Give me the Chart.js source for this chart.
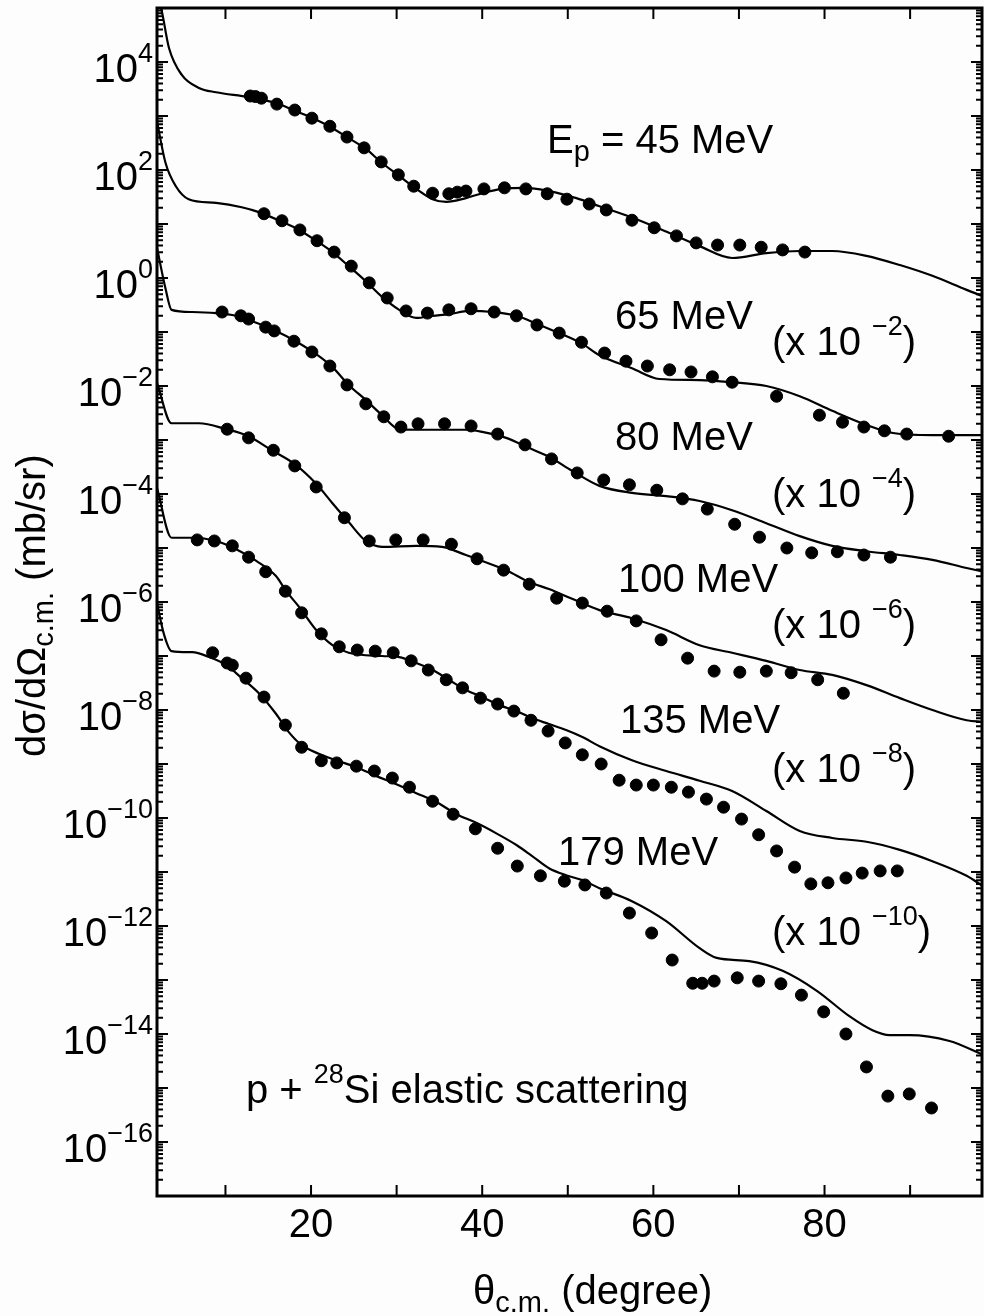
<!DOCTYPE html>
<html>
<head>
<meta charset="utf-8">
<script src="https://cdn.jsdelivr.net/npm/chart.js@4.4.1/dist/chart.umd.min.js"></script>
<style>
  html, body { margin: 0; padding: 0; overflow: hidden; background: #fcfdfc; }
  canvas { display: block; }
</style>
</head>
<body>
<canvas id="chartSi" width="984" height="1316"></canvas>
<script>
// theta_cm (deg) and log10 of dsigma/dOmega as plotted (already multiplied by the 10^-n factor)
const fit45X = [2.0, 2.5, 3.4, 4.9, 6.9, 8.9, 12.7, 15.9, 18.2, 20.6, 22.1, 24.4, 26.4, 28.3, 30.3, 32.3, 34.2, 35.8, 38.1, 40.0, 42.3, 45.1, 47.8, 51.0, 53.7, 57.5, 61.5, 65.4, 69.2, 73.2, 77.1, 80.9, 84.9, 88.8, 92.6, 96.6, 98.4];
const fit45Y = [5.2, 4.98, 4.26, 3.76, 3.52, 3.44, 3.35, 3.24, 3.09, 2.93, 2.81, 2.59, 2.39, 2.13, 1.89, 1.65, 1.46, 1.41, 1.48, 1.57, 1.65, 1.67, 1.61, 1.48, 1.33, 1.12, 0.86, 0.59, 0.37, 0.46, 0.50, 0.50, 0.41, 0.24, 0.04, -0.22, -0.33];
const dat45X = [12.9, 13.5, 14.2, 16.0, 18.1, 20.1, 22.2, 24.2, 26.2, 28.2, 30.2, 32.0, 34.2, 36.1, 37.1, 38.1, 40.2, 42.6, 45.1, 47.6, 49.9, 52.5, 54.5, 57.5, 60.1, 62.7, 65.0, 67.5, 70.1, 72.6, 75.1, 77.7];
const dat45Y = [3.37, 3.36, 3.33, 3.22, 3.11, 2.96, 2.81, 2.61, 2.41, 2.15, 1.91, 1.70, 1.57, 1.56, 1.59, 1.61, 1.65, 1.67, 1.65, 1.56, 1.46, 1.37, 1.26, 1.07, 0.93, 0.78, 0.65, 0.61, 0.61, 0.57, 0.52, 0.48];

const fit65X = [2.0, 3.0, 4.2, 5.7, 8.9, 11.9, 13.9, 16.6, 18.6, 20.6, 22.5, 24.4, 26.4, 28.3, 30.3, 32.3, 34.2, 36.1, 38.5, 41.2, 44.0, 46.7, 49.0, 51.7, 53.7, 57.5, 60.7, 65.4, 69.2, 73.2, 77.1, 80.9, 84.9, 88.0, 92.6, 96.6, 98.6];
const fit65Y = [2.9, 2.13, 1.70, 1.46, 1.39, 1.31, 1.22, 1.04, 0.89, 0.69, 0.48, 0.22, -0.06, -0.35, -0.59, -0.74, -0.70, -0.67, -0.61, -0.63, -0.70, -0.87, -1.02, -1.22, -1.43, -1.67, -1.87, -1.89, -1.93, -2.00, -2.19, -2.46, -2.72, -2.87, -2.91, -2.91, -2.91];
const dat65X = [14.5, 16.6, 18.7, 20.7, 22.7, 24.7, 26.8, 28.9, 31.1, 33.6, 36.1, 38.7, 41.4, 44.0, 46.4, 49.0, 51.6, 54.3, 56.8, 59.3, 61.9, 64.4, 66.9, 69.2, 74.4, 79.4, 82.1, 84.6, 87.0, 89.6, 94.5];
const dat65Y = [1.19, 1.06, 0.89, 0.69, 0.48, 0.22, -0.09, -0.37, -0.61, -0.65, -0.59, -0.57, -0.63, -0.70, -0.87, -1.02, -1.19, -1.39, -1.54, -1.63, -1.70, -1.74, -1.83, -1.93, -2.19, -2.54, -2.67, -2.76, -2.83, -2.89, -2.93];

const fit80X = [2.0, 3.0, 3.7, 6.1, 8.9, 11.2, 13.6, 15.9, 18.2, 20.6, 22.5, 24.4, 26.4, 28.3, 30.3, 32.3, 35.3, 38.1, 40.0, 42.8, 45.5, 47.8, 50.5, 53.7, 57.5, 61.5, 65.4, 69.2, 73.2, 77.1, 80.9, 84.9, 88.8, 92.6, 96.6, 98.6];
const fit80Y = [0.56, -0.20, -0.59, -0.63, -0.65, -0.70, -0.83, -0.98, -1.17, -1.41, -1.65, -1.98, -2.26, -2.54, -2.80, -2.81, -2.81, -2.81, -2.85, -2.96, -3.15, -3.31, -3.57, -3.85, -3.98, -4.04, -4.13, -4.30, -4.54, -4.78, -4.96, -5.06, -5.13, -5.22, -5.37, -5.44];
const dat80X = [9.6, 11.8, 12.7, 14.7, 15.7, 18.0, 20.1, 22.2, 24.2, 26.4, 28.5, 30.5, 32.5, 35.6, 38.7, 41.8, 45.0, 48.1, 51.1, 54.2, 57.2, 60.4, 63.4, 66.3, 69.5, 72.4, 75.6, 78.5, 81.5, 84.6, 87.7];
const dat80Y = [-0.63, -0.70, -0.76, -0.91, -0.98, -1.17, -1.37, -1.63, -1.98, -2.33, -2.57, -2.76, -2.70, -2.70, -2.74, -2.89, -3.09, -3.35, -3.61, -3.74, -3.83, -3.93, -4.09, -4.28, -4.56, -4.80, -5.00, -5.09, -5.07, -5.13, -5.17];

const fit100X = [2.0, 3.7, 6.9, 10.1, 12.7, 15.4, 18.2, 20.6, 22.5, 24.4, 26.4, 28.3, 32.3, 35.3, 38.1, 40.0, 42.8, 45.5, 47.8, 50.5, 53.7, 57.5, 61.5, 65.4, 69.2, 73.2, 77.1, 80.9, 84.9, 88.8, 92.6, 96.6, 98.5];
const fit100Y = [-1.94, -2.69, -2.69, -2.80, -2.93, -3.19, -3.46, -3.81, -4.17, -4.52, -4.87, -4.98, -4.96, -4.98, -5.13, -5.24, -5.41, -5.63, -5.76, -5.94, -6.15, -6.30, -6.52, -6.80, -6.94, -7.09, -7.26, -7.35, -7.54, -7.78, -8.00, -8.19, -8.22];
const dat100X = [10.2, 12.7, 15.6, 18.1, 20.6, 23.9, 26.8, 29.9, 33.1, 36.4, 39.4, 42.5, 45.5, 48.7, 51.7, 54.6, 58.0, 60.9, 64.0, 67.1, 70.1, 73.2, 76.1, 79.2, 82.2];
const dat100Y = [-2.80, -2.96, -3.19, -3.48, -3.87, -4.44, -4.87, -4.85, -4.85, -4.93, -5.20, -5.41, -5.67, -5.93, -6.02, -6.17, -6.35, -6.70, -7.04, -7.28, -7.30, -7.28, -7.31, -7.44, -7.69];

const fit135X = [2.0, 3.7, 6.1, 8.9, 11.2, 13.6, 15.9, 17.1, 18.6, 20.6, 22.5, 24.4, 28.3, 30.3, 32.3, 34.2, 36.1, 38.1, 40.0, 42.0, 44.0, 45.8, 47.8, 49.8, 51.7, 53.7, 57.5, 61.5, 65.4, 69.2, 73.2, 77.1, 80.9, 84.9, 88.8, 92.6, 96.6, 98.5];
const fit135Y = [-3.89, -4.81, -4.81, -4.87, -5.02, -5.24, -5.52, -5.80, -6.09, -6.52, -6.80, -6.94, -7.00, -7.02, -7.13, -7.26, -7.44, -7.63, -7.76, -7.91, -8.02, -8.15, -8.26, -8.37, -8.50, -8.67, -8.93, -9.13, -9.31, -9.50, -9.87, -10.24, -10.37, -10.44, -10.59, -10.80, -11.07, -11.26];
const dat135X = [6.7, 8.7, 10.8, 12.7, 14.7, 17.0, 18.9, 21.2, 23.3, 25.4, 27.5, 29.6, 31.7, 33.7, 35.8, 37.7, 39.8, 41.8, 43.7, 45.7, 47.7, 49.7, 51.7, 53.9, 56.0, 58.0, 60.0, 62.1, 64.1, 66.2, 68.2, 70.3, 72.3, 74.4, 76.5, 78.4, 80.4, 82.5, 84.4, 86.5, 88.5];
const dat135Y = [-4.85, -4.87, -4.96, -5.17, -5.44, -5.80, -6.20, -6.59, -6.83, -6.89, -6.91, -6.94, -7.09, -7.26, -7.44, -7.59, -7.78, -7.89, -8.02, -8.19, -8.39, -8.61, -8.83, -9.00, -9.30, -9.39, -9.39, -9.43, -9.52, -9.65, -9.80, -10.02, -10.31, -10.61, -10.91, -11.22, -11.20, -11.11, -11.02, -10.98, -10.98];

const fit179X = [2.0, 2.8, 3.7, 6.1, 8.1, 10.1, 11.9, 13.9, 15.9, 17.4, 18.9, 20.9, 22.9, 25.3, 27.6, 29.9, 32.3, 34.6, 37.0, 39.3, 41.6, 44.0, 45.8, 47.8, 49.8, 51.7, 53.7, 57.5, 61.5, 65.4, 67.4, 71.2, 75.1, 79.1, 82.9, 85.6, 87.6, 89.9, 94.6, 98.6];
const fit179Y = [-6.02, -6.59, -6.91, -6.93, -7.02, -7.17, -7.41, -7.69, -8.07, -8.41, -8.65, -8.81, -8.93, -9.06, -9.22, -9.37, -9.54, -9.70, -9.93, -10.09, -10.28, -10.50, -10.70, -10.93, -11.06, -11.15, -11.30, -11.54, -11.91, -12.41, -12.59, -12.65, -12.83, -13.20, -13.67, -13.93, -14.02, -14.02, -14.13, -14.39];
const dat179X = [8.5, 10.2, 10.8, 12.4, 14.5, 17.0, 18.9, 21.2, 23.0, 25.3, 27.4, 29.5, 31.5, 34.2, 36.6, 39.2, 41.8, 44.1, 46.8, 49.6, 52.0, 54.5, 57.2, 59.8, 62.2, 64.6, 65.7, 67.1, 69.8, 72.3, 74.9, 77.3, 79.9, 82.5, 84.9, 87.4, 89.9, 92.5];
const dat179Y = [-6.94, -7.13, -7.17, -7.41, -7.76, -8.28, -8.69, -8.94, -8.98, -9.04, -9.13, -9.26, -9.43, -9.69, -9.93, -10.20, -10.56, -10.89, -11.07, -11.17, -11.24, -11.39, -11.76, -12.13, -12.63, -13.06, -13.06, -13.02, -12.96, -13.02, -13.07, -13.28, -13.59, -14.00, -14.61, -15.15, -15.11, -15.37];

const xTicks = [10, 20, 30, 40, 50, 60, 70, 80, 90];
const xTickLabels = [20, 40, 60, 80];
const yLabelExps = [4, 2, 0, -2, -4, -6, -8, -10, -12, -14, -16];
const energies = ['45', '65', '80', '100', '135', '179'];
const factorExps = ['', '−2', '−4', '−6', '−8', '−10'];

const FONT = '"Liberation Sans", Arial, Helvetica, sans-serif';
const SIZE = 40, SUP = 27, SUB = 29;

function pts(xs, ys) {
  return xs.map((x, i) => ({ x: x, y: Math.pow(10, ys[i]) }));
}

// text with superscript (1) / subscript (-1) parts
function richText(ctx, parts, x, y, align) {
  const fontOf = k => (k === 1 ? SUP : k === -1 ? SUB : SIZE) + 'px ' + FONT;
  let w = 0;
  parts.forEach(([t, k]) => { ctx.font = fontOf(k); w += ctx.measureText(t).width; });
  let cx = align === 'right' ? x - w : (align === 'center' ? x - w / 2 : x);
  ctx.textAlign = 'left';
  ctx.textBaseline = 'alphabetic';
  parts.forEach(([t, k]) => {
    ctx.font = fontOf(k);
    const dy = k === 1 ? -20 : (k === -1 ? 8 : 0);
    ctx.fillText(t, cx, y + dy);
    cx += ctx.measureText(t).width;
  });
}

const fits = [[fit45X, fit45Y], [fit65X, fit65Y], [fit80X, fit80Y], [fit100X, fit100Y], [fit135X, fit135Y], [fit179X, fit179Y]];
const dats = [[dat45X, dat45Y], [dat65X, dat65Y], [dat80X, dat80Y], [dat100X, dat100Y], [dat135X, dat135Y], [dat179X, dat179Y]];

const datasets = [];
dats.forEach((d, i) => datasets.push({
  label: energies[i] + ' MeV data',
  data: pts(d[0], d[1]),
  showLine: false,
  pointRadius: 6,
  pointBackgroundColor: '#000',
  pointBorderColor: '#000',
  pointBorderWidth: 1,
  order: 0
}));
fits.forEach((f, i) => datasets.push({
  label: energies[i] + ' MeV calc',
  data: pts(f[0], f[1]),
  showLine: true,
  borderColor: '#000',
  borderWidth: 2.2,
  pointRadius: 0,
  cubicInterpolationMode: 'monotone',
  order: 1
}));

// frame, inward ticks, labels and annotations
const axesFrame = {
  id: 'axesFrame',
  afterDatasetsDraw(chart) {
    const { ctx, chartArea: a, scales: { x, y } } = chart;
    ctx.save();
    ctx.strokeStyle = '#000';
    ctx.fillStyle = '#000';
    ctx.lineWidth = 2;
    ctx.beginPath();
    xTicks.forEach(v => {
      const px = x.getPixelForValue(v);
      ctx.moveTo(px, a.bottom); ctx.lineTo(px, a.bottom - 11);
      ctx.moveTo(px, a.top); ctx.lineTo(px, a.top + 11);
    });
    for (let e = -17; e <= 5; e++) {
      for (let m = 1; m <= 9; m++) {
        const v = m * Math.pow(10, e);
        if (v < y.min || v > y.max) continue;
        const py = y.getPixelForValue(v);
        const len = m === 1 ? 11 : 6;
        ctx.moveTo(a.left, py); ctx.lineTo(a.left + len, py);
        ctx.moveTo(a.right, py); ctx.lineTo(a.right - len, py);
      }
    }
    ctx.stroke();
    ctx.lineWidth = 3;
    ctx.strokeRect(a.left, a.top, a.right - a.left, a.bottom - a.top);

    xTickLabels.forEach(v => {
      richText(ctx, [[String(v), 0]], x.getPixelForValue(v), a.bottom + 41, 'center');
    });
    yLabelExps.forEach(e => {
      const py = y.getPixelForValue(Math.pow(10, e));
      const s = e < 0 ? '−' + (-e) : String(e);
      richText(ctx, [['10', 0], [s, 1]], a.left - 4, py + 20, 'right');
    });

    richText(ctx, [['θ', 0], ['c.m.', -1], [' (degree)', 0]], 473, 1304, 'left');
    ctx.save();
    ctx.translate(45, 757);
    ctx.rotate(-Math.PI / 2);
    richText(ctx, [['dσ/dΩ', 0], ['c.m.', -1], [' (mb/sr)', 0]], 0, 0, 'left');
    ctx.restore();

    // energy labels and scale factors
    const labelPos = [[547, 153], [615, 329], [615, 450], [618, 592], [620, 733], [558, 865]];
    const factorY = [0, 355, 507, 638, 782, 945];
    energies.forEach((en, i) => {
      const [lx, ly] = labelPos[i];
      if (i === 0) richText(ctx, [['E', 0], ['p', -1], [' = ' + en + ' MeV', 0]], lx, ly, 'left');
      else richText(ctx, [[en + ' MeV', 0]], lx, ly, 'left');
      if (factorExps[i]) richText(ctx, [['(x 10 ', 0], [factorExps[i], 1], [')', 0]], 772, factorY[i], 'left');
    });
    richText(ctx, [['p + ', 0], ['28', 1], ['Si elastic scattering', 0]], 246, 1103, 'left');
    ctx.restore();
  }
};

new Chart(document.getElementById('chartSi'), {
  type: 'scatter',
  data: { datasets: datasets },
  options: {
    responsive: false,
    animation: false,
    layout: { autoPadding: false, padding: { left: 157, top: 8, right: 2, bottom: 120 } },
    plugins: { legend: { display: false }, tooltip: { enabled: false } },
    scales: {
      x: { type: 'linear', min: 2, max: 98.4, display: false },
      y: { type: 'logarithmic', min: 1e-17, max: 1e5, display: false }
    }
  },
  plugins: [axesFrame]
});
</script>
</body>
</html>
